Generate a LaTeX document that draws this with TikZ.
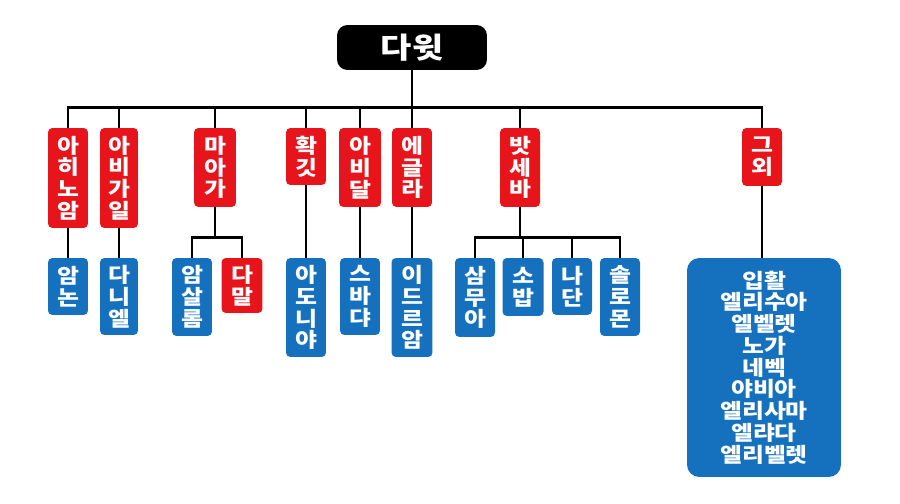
\documentclass[tikz,border=0pt]{standalone}
\usepackage{fontspec}
\newfontfamily\kr{Noto Sans CJK KR}[FakeStretch=1.17]
\usetikzlibrary{positioning}
\definecolor{momred}{HTML}{E8141C}
\definecolor{sonblue}{HTML}{1570BE}

\begin{document}
\begin{tikzpicture}[
  x=0.02cm, y=-0.02cm,
  font=\kr\bfseries\fontsize{11.6}{12.4}\selectfont,
  king/.style={fill=black, text=white, rounded corners=6pt, inner sep=0pt, font=\kr\bfseries\fontsize{16.5}{18}\selectfont},
  mom/.style={fill=momred, text=white, rounded corners=2.5pt, inner sep=0pt, align=center},
  son/.style={fill=sonblue, text=white, rounded corners=2.5pt, inner sep=0pt, align=center},
  link/.style={draw=black, line width=1.6pt}
]
\useasboundingbox (0,0) rectangle (900,504);

\node[king, minimum width=3.0cm, minimum height=0.9cm] (root) at (412,47.5) {다윗};

\node[mom, minimum width=0.8cm, minimum height=2.0cm]  (p1) at (68,178)    {아\\히\\노\\암};
\node[mom, minimum width=0.76cm, minimum height=2.0cm] (p2) at (119,178)   {아\\비\\가\\일};
\node[mom, minimum width=0.84cm, minimum height=1.58cm] (p3) at (215,167.5) {마\\아\\가};
\node[mom, minimum width=0.8cm, minimum height=1.14cm] (p4) at (306,156.5) {확\\깃};
\node[mom, minimum width=0.84cm, minimum height=1.58cm] (p5) at (360,167.5) {아\\비\\달};
\node[mom, minimum width=0.8cm, minimum height=1.58cm] (p6) at (412,167.5) {에\\글\\라};
\node[mom, minimum width=0.8cm, minimum height=1.58cm] (p7) at (520,167.5) {밧\\세\\바};
\node[mom, minimum width=0.8cm, minimum height=1.16cm] (p8) at (762,157)   {그\\외};

\node[son, minimum width=0.8cm, minimum height=1.14cm]  (k1) at (68,286.5)  {암\\논};
\node[son, minimum width=0.76cm, minimum height=1.54cm] (k2) at (119,296.5) {다\\니\\엘};
\node[son, minimum width=0.8cm, minimum height=1.56cm]  (k3) at (192,297)   {암\\살\\롬};
\node[mom, minimum width=0.82cm, minimum height=1.1cm]  (k4) at (242,285.5) {다\\말};
\node[son, minimum width=0.8cm, minimum height=1.98cm]  (k5) at (306,307.5) {아\\도\\니\\야};
\node[son, minimum width=0.8cm, minimum height=1.54cm]  (k6) at (360,296.5) {스\\바\\댜};
\node[son, minimum width=0.82cm, minimum height=1.98cm] (k7) at (412,307.5) {이\\드\\르\\암};
\node[son, minimum width=0.8cm, minimum height=1.58cm]  (k8) at (475,297.5) {삼\\무\\아};
\node[son, minimum width=0.82cm, minimum height=1.16cm] (k9) at (523,287)   {소\\밥};
\node[son, minimum width=0.8cm, minimum height=1.14cm]  (k10) at (572,286.5) {나\\단};
\node[son, minimum width=0.8cm, minimum height=1.56cm]  (k11) at (620,297)  {솔\\로\\몬};
\node[son, rounded corners=7pt, minimum width=3.08cm, minimum height=4.38cm] (k12) at (764,367.5)
  {입활\\엘리수아\\엘벨렛\\노가\\네벡\\야비아\\엘리사마\\엘랴다\\엘리벨렛};

\foreach \p in {p1,p2,p3,p4,p5,p6,p7,p8} \draw[link] (root.south) -- ++(0,37) -| (\p.north);
\draw[link] (p1) -- (k1);
\draw[link] (p2) -- (k2);
\foreach \k in {k3,k4} \draw[link] (p3.south) -- ++(0,30) -| (\k.north);
\draw[link] (p4) -- (k5);
\draw[link] (p5) -- (k6);
\draw[link] (p6) -- (k7);
\foreach \k in {k8,k9,k10,k11} \draw[link] (p7.south) -- ++(0,30) -| (\k.north);
\draw[link] (p8.south) -- (p8.south |- k12.north);
\end{tikzpicture}
\end{document}
